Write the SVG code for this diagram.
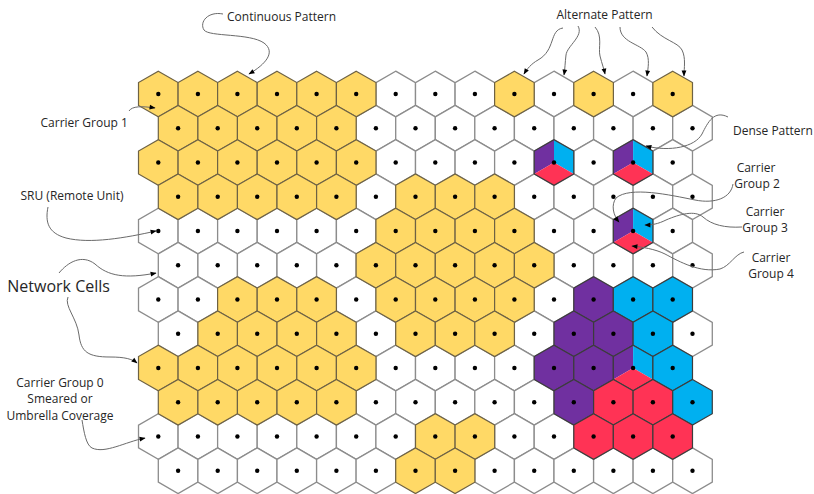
<svg xmlns="http://www.w3.org/2000/svg" width="814" height="494" viewBox="0 0 814 494">
<style>
.w{fill:#fff;stroke:#8c8c8c;stroke-width:1.3}
.y{fill:#FFD966;stroke:#6e6244;stroke-width:1.2}
.p{fill:#7030A0}
.b{fill:#00B0F0}
.r{fill:#FF3355}
.o{fill:none;stroke:#3c3c3c;stroke-width:1.2}
.pc{stroke:#3c3c3c;stroke-width:1.2}
.t{font-family:"Open Sans","DejaVu Sans",sans-serif;font-size:12px;fill:#262626}
.big{font-size:16px}
.cn{fill:none;stroke:#6a6a6a;stroke-width:1;marker-end:url(#ah)}
</style>
<defs>
<marker id="ah" viewBox="0 0 10 10" refX="9" refY="5" markerWidth="7" markerHeight="6" orient="auto" markerUnits="userSpaceOnUse"><path d="M0,1 L10,5 L0,9 z" fill="#000"/></marker>
<polygon id="hx" points="0,-22.85 19.79,-11.42 19.79,11.42 0,22.85 -19.79,11.42 -19.79,-11.42"/>
<g id="W"><use href="#hx" class="w"/><circle r="2.2"/></g>
<g id="Y"><use href="#hx" class="y"/><circle r="2.2"/></g>
<g id="P"><use href="#hx" class="p pc"/><circle r="2.2"/></g>
<g id="B"><use href="#hx" class="b pc"/><circle r="2.2"/></g>
<g id="R"><use href="#hx" class="r pc"/><circle r="2.2"/></g>
<g id="S"><polygon class="p" points="0,-22.85 -19.79,-11.42 -19.79,11.42 0,0"/><polygon class="b" points="0,-22.85 19.79,-11.42 19.79,11.42 0,0"/><polygon class="r" points="0,0 19.79,11.42 0,22.85 -19.79,11.42"/><use href="#hx" class="o"/><circle r="2.2"/></g>
</defs>
<rect width="814" height="494" fill="#fff"/>
<g id="cells-white">
<use id="c0-6" href="#W" x="395.7" y="94"/><use id="c0-7" href="#W" x="435.3" y="94"/><use id="c0-8" href="#W" x="474.9" y="94"/><use id="c0-10" href="#W" x="554.0" y="94"/><use id="c0-12" href="#W" x="633.1" y="94"/>
<use id="c1-5" href="#W" x="375.9" y="128.25"/><use id="c1-6" href="#W" x="415.5" y="128.25"/><use id="c1-7" href="#W" x="455.1" y="128.25"/><use id="c1-8" href="#W" x="494.6" y="128.25"/><use id="c1-9" href="#W" x="534.2" y="128.25"/><use id="c1-10" href="#W" x="573.8" y="128.25"/><use id="c1-11" href="#W" x="613.4" y="128.25"/><use id="c1-12" href="#W" x="652.9" y="128.25"/><use id="c1-13" href="#W" x="692.5" y="128.25"/>
<use id="c2-6" href="#W" x="395.7" y="162.5"/><use id="c2-7" href="#W" x="435.3" y="162.5"/><use id="c2-8" href="#W" x="474.9" y="162.5"/><use id="c2-9" href="#W" x="514.4" y="162.5"/><use id="c2-11" href="#W" x="593.6" y="162.5"/><use id="c2-13" href="#W" x="672.7" y="162.5"/>
<use id="c3-5" href="#W" x="375.9" y="196.75"/><use id="c3-9" href="#W" x="534.2" y="196.75"/><use id="c3-10" href="#W" x="573.8" y="196.75"/><use id="c3-11" href="#W" x="613.4" y="196.75"/><use id="c3-12" href="#W" x="652.9" y="196.75"/><use id="c3-13" href="#W" x="692.5" y="196.75"/>
<use id="c4-0" href="#W" x="158.3" y="231"/><use id="c4-1" href="#W" x="197.9" y="231"/><use id="c4-2" href="#W" x="237.4" y="231"/><use id="c4-3" href="#W" x="277.0" y="231"/><use id="c4-4" href="#W" x="316.6" y="231"/><use id="c4-5" href="#W" x="356.2" y="231"/><use id="c4-10" href="#W" x="554.0" y="231"/><use id="c4-11" href="#W" x="593.6" y="231"/><use id="c4-13" href="#W" x="672.7" y="231"/>
<use id="c5-0" href="#W" x="178.1" y="265.25"/><use id="c5-1" href="#W" x="217.7" y="265.25"/><use id="c5-2" href="#W" x="257.2" y="265.25"/><use id="c5-3" href="#W" x="296.8" y="265.25"/><use id="c5-4" href="#W" x="336.4" y="265.25"/><use id="c5-10" href="#W" x="573.8" y="265.25"/><use id="c5-11" href="#W" x="613.4" y="265.25"/><use id="c5-12" href="#W" x="652.9" y="265.25"/><use id="c5-13" href="#W" x="692.5" y="265.25"/>
<use id="c6-0" href="#W" x="158.3" y="299.5"/><use id="c6-1" href="#W" x="197.9" y="299.5"/><use id="c6-5" href="#W" x="356.2" y="299.5"/><use id="c6-10" href="#W" x="554.0" y="299.5"/>
<use id="c7-0" href="#W" x="178.1" y="333.75"/><use id="c7-5" href="#W" x="375.9" y="333.75"/><use id="c7-9" href="#W" x="534.2" y="333.75"/><use id="c7-13" href="#W" x="692.5" y="333.75"/>
<use id="c8-6" href="#W" x="395.7" y="368"/><use id="c8-7" href="#W" x="435.3" y="368"/><use id="c8-8" href="#W" x="474.9" y="368"/><use id="c8-9" href="#W" x="514.4" y="368"/>
<use id="c9-5" href="#W" x="375.9" y="402.25"/><use id="c9-6" href="#W" x="415.5" y="402.25"/><use id="c9-7" href="#W" x="455.1" y="402.25"/><use id="c9-8" href="#W" x="494.6" y="402.25"/><use id="c9-9" href="#W" x="534.2" y="402.25"/>
<use id="c10-0" href="#W" x="158.3" y="436.5"/><use id="c10-1" href="#W" x="197.9" y="436.5"/><use id="c10-2" href="#W" x="237.4" y="436.5"/><use id="c10-3" href="#W" x="277.0" y="436.5"/><use id="c10-4" href="#W" x="316.6" y="436.5"/><use id="c10-5" href="#W" x="356.2" y="436.5"/><use id="c10-6" href="#W" x="395.7" y="436.5"/><use id="c10-9" href="#W" x="514.4" y="436.5"/><use id="c10-10" href="#W" x="554.0" y="436.5"/>
<use id="c11-0" href="#W" x="178.1" y="470.75"/><use id="c11-1" href="#W" x="217.7" y="470.75"/><use id="c11-2" href="#W" x="257.2" y="470.75"/><use id="c11-3" href="#W" x="296.8" y="470.75"/><use id="c11-4" href="#W" x="336.4" y="470.75"/><use id="c11-5" href="#W" x="375.9" y="470.75"/><use id="c11-8" href="#W" x="494.6" y="470.75"/><use id="c11-9" href="#W" x="534.2" y="470.75"/><use id="c11-10" href="#W" x="573.8" y="470.75"/><use id="c11-11" href="#W" x="613.4" y="470.75"/><use id="c11-12" href="#W" x="652.9" y="470.75"/><use id="c11-13" href="#W" x="692.5" y="470.75"/>
</g>
<g id="cells-colored">
<use id="c0-0" href="#Y" x="158.3" y="94"/><use id="c0-1" href="#Y" x="197.9" y="94"/><use id="c0-2" href="#Y" x="237.4" y="94"/><use id="c0-3" href="#Y" x="277.0" y="94"/><use id="c0-4" href="#Y" x="316.6" y="94"/><use id="c0-5" href="#Y" x="356.2" y="94"/><use id="c0-9" href="#Y" x="514.4" y="94"/><use id="c0-11" href="#Y" x="593.6" y="94"/><use id="c0-13" href="#Y" x="672.7" y="94"/>
<use id="c1-0" href="#Y" x="178.1" y="128.25"/><use id="c1-1" href="#Y" x="217.7" y="128.25"/><use id="c1-2" href="#Y" x="257.2" y="128.25"/><use id="c1-3" href="#Y" x="296.8" y="128.25"/><use id="c1-4" href="#Y" x="336.4" y="128.25"/>
<use id="c2-0" href="#Y" x="158.3" y="162.5"/><use id="c2-1" href="#Y" x="197.9" y="162.5"/><use id="c2-2" href="#Y" x="237.4" y="162.5"/><use id="c2-3" href="#Y" x="277.0" y="162.5"/><use id="c2-4" href="#Y" x="316.6" y="162.5"/><use id="c2-5" href="#Y" x="356.2" y="162.5"/><use id="c2-10" href="#S" x="554.0" y="162.5"/><use id="c2-12" href="#S" x="633.1" y="162.5"/>
<use id="c3-0" href="#Y" x="178.1" y="196.75"/><use id="c3-1" href="#Y" x="217.7" y="196.75"/><use id="c3-2" href="#Y" x="257.2" y="196.75"/><use id="c3-3" href="#Y" x="296.8" y="196.75"/><use id="c3-4" href="#Y" x="336.4" y="196.75"/><use id="c3-6" href="#Y" x="415.5" y="196.75"/><use id="c3-7" href="#Y" x="455.1" y="196.75"/><use id="c3-8" href="#Y" x="494.6" y="196.75"/>
<use id="c4-6" href="#Y" x="395.7" y="231"/><use id="c4-7" href="#Y" x="435.3" y="231"/><use id="c4-8" href="#Y" x="474.9" y="231"/><use id="c4-9" href="#Y" x="514.4" y="231"/><use id="c4-12" href="#S" x="633.1" y="231"/>
<use id="c5-5" href="#Y" x="375.9" y="265.25"/><use id="c5-6" href="#Y" x="415.5" y="265.25"/><use id="c5-7" href="#Y" x="455.1" y="265.25"/><use id="c5-8" href="#Y" x="494.6" y="265.25"/><use id="c5-9" href="#Y" x="534.2" y="265.25"/>
<use id="c6-2" href="#Y" x="237.4" y="299.5"/><use id="c6-3" href="#Y" x="277.0" y="299.5"/><use id="c6-4" href="#Y" x="316.6" y="299.5"/><use id="c6-6" href="#Y" x="395.7" y="299.5"/><use id="c6-7" href="#Y" x="435.3" y="299.5"/><use id="c6-8" href="#Y" x="474.9" y="299.5"/><use id="c6-9" href="#Y" x="514.4" y="299.5"/><use id="c6-11" href="#P" x="593.6" y="299.5"/><use id="c6-12" href="#B" x="633.1" y="299.5"/><use id="c6-13" href="#B" x="672.7" y="299.5"/>
<use id="c7-1" href="#Y" x="217.7" y="333.75"/><use id="c7-2" href="#Y" x="257.2" y="333.75"/><use id="c7-3" href="#Y" x="296.8" y="333.75"/><use id="c7-4" href="#Y" x="336.4" y="333.75"/><use id="c7-6" href="#Y" x="415.5" y="333.75"/><use id="c7-7" href="#Y" x="455.1" y="333.75"/><use id="c7-8" href="#Y" x="494.6" y="333.75"/><use id="c7-10" href="#P" x="573.8" y="333.75"/><use id="c7-11" href="#P" x="613.4" y="333.75"/><use id="c7-12" href="#B" x="652.9" y="333.75"/>
<use id="c8-0" href="#Y" x="158.3" y="368"/><use id="c8-1" href="#Y" x="197.9" y="368"/><use id="c8-2" href="#Y" x="237.4" y="368"/><use id="c8-3" href="#Y" x="277.0" y="368"/><use id="c8-4" href="#Y" x="316.6" y="368"/><use id="c8-5" href="#Y" x="356.2" y="368"/><use id="c8-10" href="#P" x="554.0" y="368"/><use id="c8-11" href="#P" x="593.6" y="368"/><use id="c8-12" href="#S" x="633.1" y="368"/><use id="c8-13" href="#B" x="672.7" y="368"/>
<use id="c9-0" href="#Y" x="178.1" y="402.25"/><use id="c9-1" href="#Y" x="217.7" y="402.25"/><use id="c9-2" href="#Y" x="257.2" y="402.25"/><use id="c9-3" href="#Y" x="296.8" y="402.25"/><use id="c9-4" href="#Y" x="336.4" y="402.25"/><use id="c9-10" href="#P" x="573.8" y="402.25"/><use id="c9-11" href="#R" x="613.4" y="402.25"/><use id="c9-12" href="#R" x="652.9" y="402.25"/><use id="c9-13" href="#B" x="692.5" y="402.25"/>
<use id="c10-7" href="#Y" x="435.3" y="436.5"/><use id="c10-8" href="#Y" x="474.9" y="436.5"/><use id="c10-11" href="#R" x="593.6" y="436.5"/><use id="c10-12" href="#R" x="633.1" y="436.5"/><use id="c10-13" href="#R" x="672.7" y="436.5"/>
<use id="c11-6" href="#Y" x="415.5" y="470.75"/><use id="c11-7" href="#Y" x="455.1" y="470.75"/>
</g>
<g id="connectors">
<path class="cn" d="M223,14 C208,11 199,22 204,30 C209,37 250,33 264,43 C276,52 266,64 249,74"/>
<path class="cn" d="M563,28 C549,30 556,50 538,60 C531,64 527,69 524,74"/>
<path class="cn" d="M578,26 C584,36 567,46 566,55 C565,63 565,69 564,75"/>
<path class="cn" d="M595,27 C603,36 598,48 600,56 C602,64 604,69 605,74"/>
<path class="cn" d="M620,27 C620,42 640,44 646,52 C650,59 648,68 647,76"/>
<path class="cn" d="M652,27 C662,40 678,42 682,50 C686,58 684,68 684,76"/>
<path class="cn" d="M129,111 C132,106 142,106 155,108"/>
<path class="cn" d="M48,207 C45,222 48,233 66,238 C90,244 125,238 156,231"/>
<path class="cn" d="M59,273 C68,262 82,254 95,264 C108,276 125,279 156,273"/>
<path class="cn" d="M68,297 C64,306 77,318 79,335 C81,352 88,357 110,357 C125,357 132,359 137,363"/>
<path class="cn" d="M82,420 C84,432 86,445 92,448 C105,454 125,442 145,438"/>
<path class="cn" d="M728,117 C714,110 708,122 702,134 C695,147 670,152 646,146"/>
<path class="cn" d="M733,184 C731,198 715,204 695,200 C670,195 630,186 616,198 C611,205 613,215 619,222"/>
<path class="cn" d="M742,227 C725,228 712,225 703,217 C695,210 680,214 666,220 C658,224 652,225 645,225"/>
<path class="cn" d="M744,252 C735,254 730,266 720,269 C700,273 680,262 665,254 C655,249 642,247 632,246"/>
</g>
<g id="labels">
<text id="l-cont" class="t" x="227" y="20.5">Continuous Pattern</text>
<text id="l-alt" class="t" x="556.5" y="18.5">Alternate Pattern</text>
<text id="l-cg1" class="t" x="40.5" y="127.3">Carrier Group 1</text>
<text id="l-sru" class="t" x="20.5" y="199.5">SRU (Remote Unit)</text>
<text id="l-net" class="t big" x="7.3" y="291.7">Network Cells</text>
<text id="l-cg0" class="t" text-anchor="middle"><tspan x="60" y="386.5">Carrier Group 0</tspan><tspan x="60" y="403">Smeared or</tspan><tspan x="60" y="419.5">Umbrella Coverage</tspan></text>
<text id="l-dense" class="t" x="733" y="135">Dense Pattern</text>
<text id="l-cg2" class="t" text-anchor="middle"><tspan x="756" y="171.5">Carrier</tspan><tspan x="757" y="187.5">Group 2</tspan></text>
<text id="l-cg3" class="t" text-anchor="middle"><tspan x="765" y="216">Carrier</tspan><tspan x="765" y="232">Group 3</tspan></text>
<text id="l-cg4" class="t" text-anchor="middle"><tspan x="771" y="261.5">Carrier</tspan><tspan x="771" y="277.5">Group 4</tspan></text>
</g>
</svg>
